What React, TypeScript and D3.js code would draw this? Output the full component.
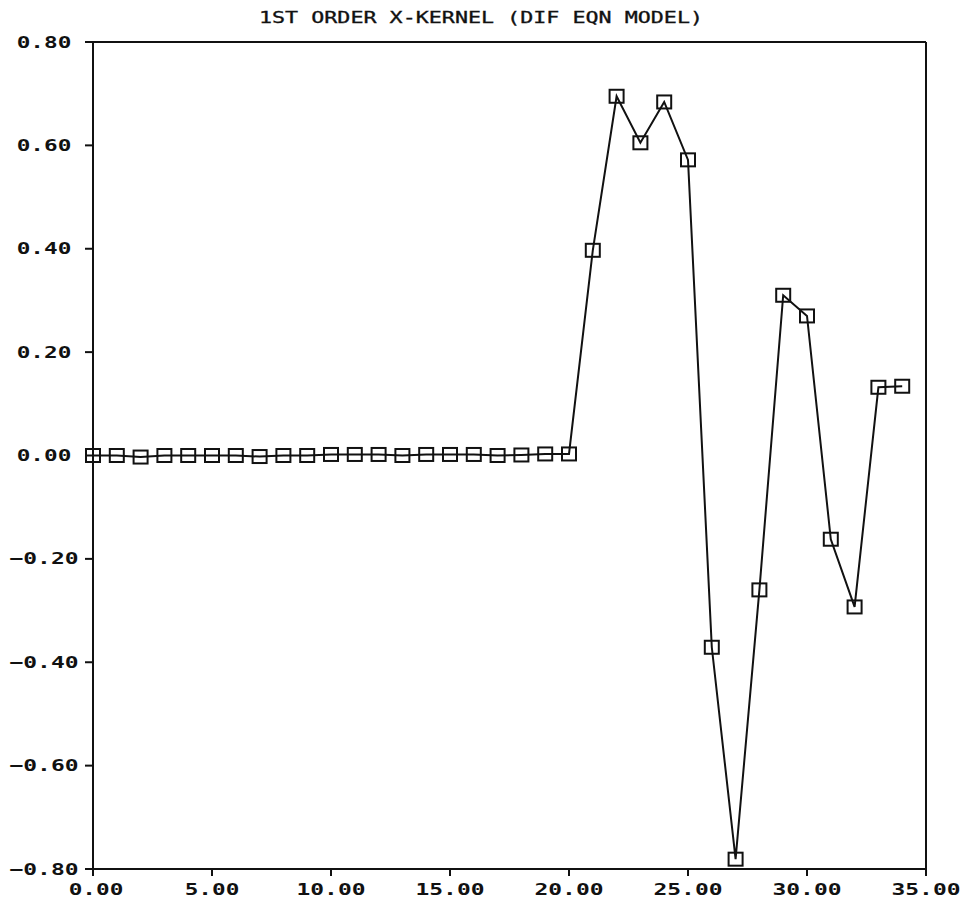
import * as d3 from "d3";

const title = "1ST ORDER X-KERNEL (DIF EQN MODEL)";

const lags = d3.range(0, 35);
const kernel = [
  0.0, 0.0, -0.003, 0.0, 0.0, 0.0, 0.0, -0.002, 0.0, 0.0,
  0.002, 0.002, 0.002, 0.0, 0.002, 0.002, 0.002, 0.0, 0.001, 0.003,
  0.003, 0.397, 0.695, 0.605, 0.684, 0.572, -0.371, -0.781, -0.26, 0.31,
  0.27, -0.162, -0.293, 0.132, 0.134,
];

const xTicks = [0, 5, 10, 15, 20, 25, 30, 35];
const yTicks = [-0.8, -0.6, -0.4, -0.2, 0, 0.2, 0.4, 0.6, 0.8];

export default function App() {
  const width = 968;
  const height = 907;
  const left = 93;
  const right = 926;
  const top = 42;
  const bottom = 869;
  const ink = "#111";
  const font = "'DejaVu Sans Mono', monospace";

  const x = d3.scaleLinear().domain([0, 35]).range([left, right]);
  const y = d3.scaleLinear().domain([-0.8, 0.8]).range([bottom, top]);

  const points = lags.map((l, i) => ({ lag: l, value: kernel[i] }));
  const line = d3
    .line<{ lag: number; value: number }>()
    .x((d) => x(d.lag))
    .y((d) => y(d.value));

  const fmt = d3.format(".2f");
  const charW = 14.4;
  const box = 14;

  return (
    <svg
      width={width}
      height={height}
      style={{ position: "absolute", left: 0, top: 0, background: "#fff" }}
    >
      <text
        x={481}
        y={18}
        textAnchor="middle"
        dominantBaseline="central"
        fontFamily={font}
        fontSize={15}
        textLength={444}
        lengthAdjust="spacingAndGlyphs"
        fill={ink}
        stroke={ink}
        strokeWidth={0.3}
      >
        {title}
      </text>

      {/* frame */}
      <g stroke={ink} strokeWidth={2} fill="none">
        <line x1={left} x2={right} y1={top} y2={top} />
        <line x1={left} x2={right} y1={bottom} y2={bottom} />
        <line x1={left} x2={left} y1={top} y2={bottom + 7} />
        <line x1={right} x2={right} y1={top} y2={bottom + 7} />
      </g>

      {/* Y axis */}
      {yTicks.map((t) => {
        const label = fmt(t);
        return (
          <g key={t}>
            <line
              x1={left - 8}
              x2={left}
              y1={y(t)}
              y2={y(t)}
              stroke={ink}
              strokeWidth={2}
            />
            <text
              x={44}
              y={y(t)}
              textAnchor="middle"
              dominantBaseline="central"
              fontFamily={font}
              fontWeight="bold"
              fontSize={16}
              textLength={label.length * charW - 3}
              lengthAdjust="spacingAndGlyphs"
              fill={ink}
            >
              {label}
            </text>
          </g>
        );
      })}

      {/* X axis */}
      {xTicks.map((t) => {
        const label = fmt(t);
        return (
          <g key={t}>
            <line
              x1={x(t)}
              x2={x(t)}
              y1={bottom}
              y2={bottom + 7}
              stroke={ink}
              strokeWidth={2}
            />
            <text
              x={x(t) + (t === 0 ? 3 : 0)}
              y={889}
              textAnchor="middle"
              dominantBaseline="central"
              fontFamily={font}
              fontWeight="bold"
              fontSize={16}
              textLength={label.length * charW - 3}
              lengthAdjust="spacingAndGlyphs"
              fill={ink}
            >
              {label}
            </text>
          </g>
        );
      })}

      {/* series */}
      <path d={line(points) ?? ""} fill="none" stroke={ink} strokeWidth={2} />
      {points.map((p) => (
        <rect
          key={p.lag}
          x={x(p.lag) - box / 2}
          y={y(p.value) - box / 2 + 0.5}
          width={box}
          height={box - 1}
          fill="none"
          stroke={ink}
          strokeWidth={2}
        />
      ))}
    </svg>
  );
}
